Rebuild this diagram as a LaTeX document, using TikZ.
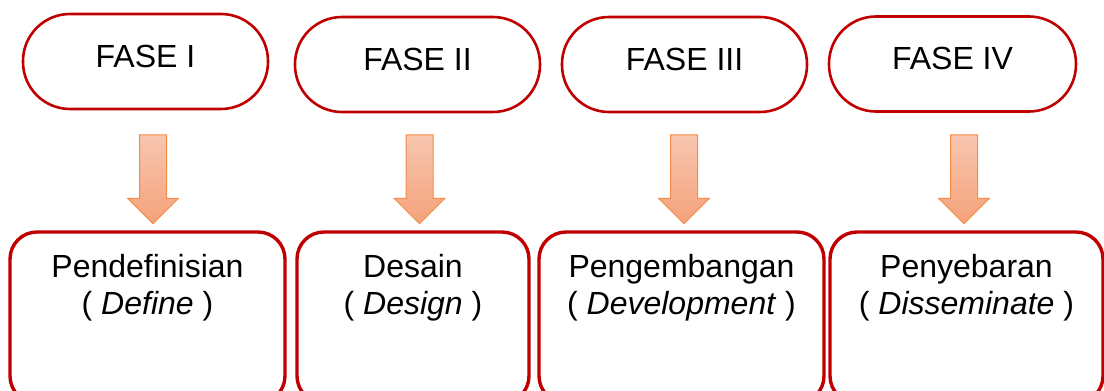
\documentclass[tikz,border=0pt]{standalone}
\usepackage{fontspec}
\setmainfont{Liberation Sans}
\usepackage{xcolor}
\usetikzlibrary{shapes.arrows, positioning}

\definecolor{faseRed}{RGB}{192,0,0}
\definecolor{arrEdge}{RGB}{244,140,70}
\definecolor{arrTop}{RGB}{248,198,176}
\definecolor{arrBot}{RGB}{244,162,122}

\begin{document}
\begin{tikzpicture}[
  x=1pt, y=-1pt,
  font=\fontsize{32}{37}\selectfont,
  fase/.style={draw=faseRed, line width=2.6pt, rounded corners=47pt,
               minimum height=95pt, text height=23pt, text depth=12pt,
               inner sep=0pt},
  tahap/.style={draw=faseRed, line width=3.4pt, rounded corners=27pt,
                minimum height=171pt, inner sep=0pt},
  lbl/.style={align=center, inner sep=0pt},
  turun/.style={single arrow, shape border rotate=270, draw=arrEdge,
                line width=1pt, top color=arrTop, bottom color=arrBot,
                minimum height=89pt, minimum width=50pt,
                single arrow head extend=12pt, inner sep=13pt}
]
\clip (0,0) rectangle (1104,391);
% fase atas
\node[fase, minimum width=245pt] (f1) at (145.5,61.5) {FASE I};
\node[fase, minimum width=245pt] (f2) at (417.5,64.5) {FASE II};
\node[fase, minimum width=245pt] (f3) at (684.5,64.5) {FASE III};
\node[fase, minimum width=247pt] (f4) at (952.5,64) {FASE IV};
% panah
\node[turun] (a1) at (153,172.5) {};
\node[turun] (a2) at (419.5,172.5) {};
\node[turun] (a3) at (684,172.5) {};
\node[turun] (a4) at (964,172.5) {};
% tahap bawah
\node[tahap, minimum width=275pt] (t1) at (147.5,317.5) {};
\node[tahap, minimum width=232pt] (t2) at (413,317.5) {};
\node[tahap, minimum width=285pt] (t3) at (681.5,317.5) {};
\node[tahap, minimum width=273pt] (t4) at (966.5,317.5) {};
\node[lbl, below=24pt of t1.north] (l1) {Pendefinisian\\( \textit{Define} )};
\node[lbl, below=24pt of t2.north] (l2) {Desain\\( \textit{Design} )};
\node[lbl, below=24pt of t3.north] (l3) {Pengembangan\\( \textit{Development} )};
\node[lbl, below=24pt of t4.north] (l4) {Penyebaran\\( \textit{Disseminate} )};
\end{tikzpicture}
\end{document}
